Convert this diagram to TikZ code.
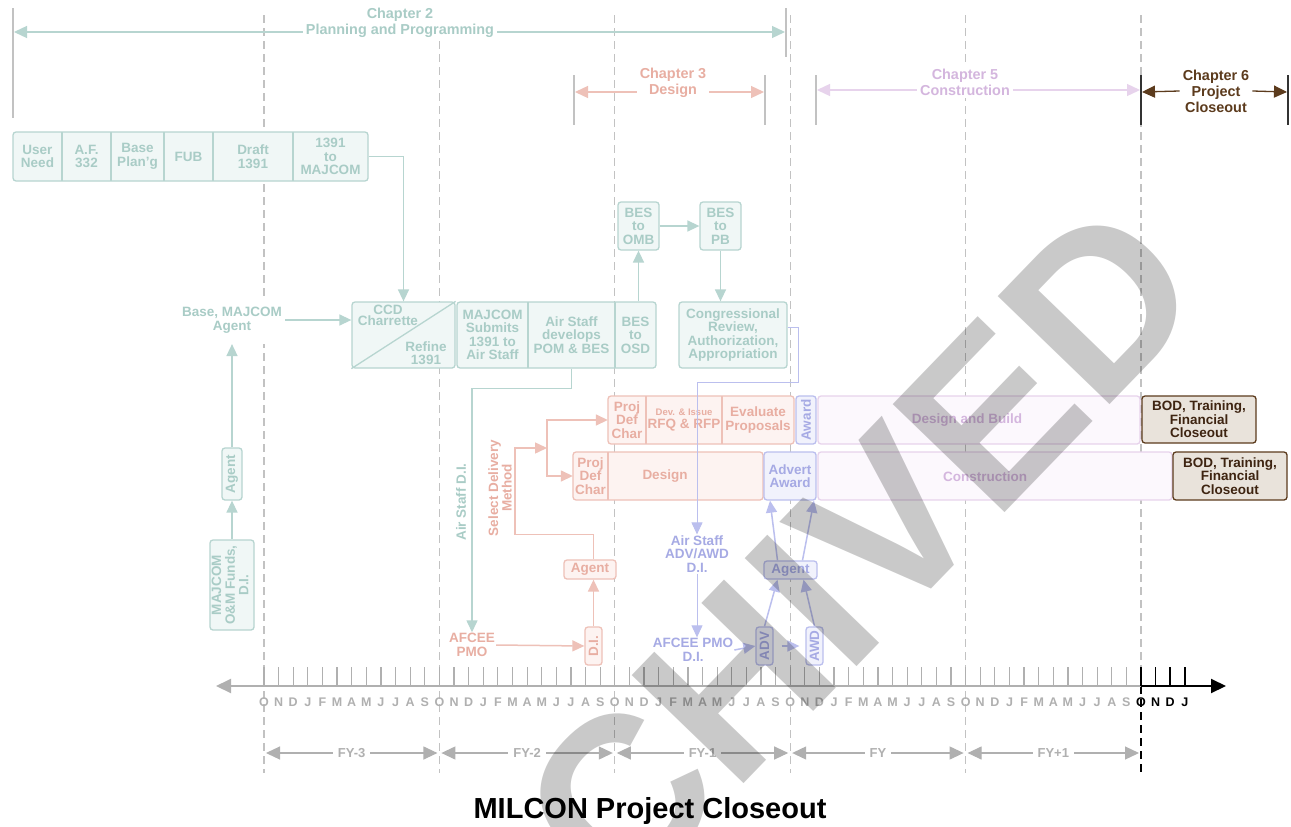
\documentclass[tikz,border=0pt]{standalone}
\usepackage{fontspec}
\setmainfont{Liberation Sans}
\usetikzlibrary{arrows.meta,positioning}

\definecolor{tealT}{HTML}{A9CCC6}
\definecolor{tealD}{HTML}{B7D5D0}
\definecolor{tealF}{HTML}{F0F7F6}
\definecolor{salT}{HTML}{E8AEA2}
\definecolor{salD}{HTML}{EEC1B8}
\definecolor{salF}{HTML}{FDF3F1}
\definecolor{bluT}{HTML}{A6AAE4}
\definecolor{bluD}{HTML}{BBBFEE}
\definecolor{bluF}{HTML}{F1F2FC}
\definecolor{purT}{HTML}{D4B6DE}
\definecolor{purD}{HTML}{E7D3EC}
\definecolor{purF}{HTML}{FCF8FD}
\definecolor{brnT}{HTML}{3E2411}
\definecolor{brnD}{HTML}{5C3B1D}
\definecolor{brnF}{HTML}{E9E3DB}
\definecolor{gryT}{HTML}{B0B0B0}
\definecolor{gryD}{HTML}{C2C2C2}

\newcommand{\boxfont}{\bfseries\fontsize{13.5}{13.5}\selectfont}
\newcommand{\chapfont}{\bfseries\fontsize{14.4}{16}\selectfont}

\tikzset{
  bx/.style={rounded corners=3pt, line width=1.3pt, inner sep=0pt, align=center, font=\boxfont},
  tbx/.style={bx, draw=tealD, fill=tealF, text=tealT},
  sbx/.style={bx, draw=salD, fill=salF, text=salT},
  bbx/.style={bx, draw=bluD, fill=bluF, text=bluT},
  pbx/.style={bx, draw=purD, fill=purF, text=purT},
  obx/.style={bx, draw=brnD, fill=brnF, text=brnT},
  cell/.style={inner sep=0pt, align=center, font=\boxfont},
  lbl/.style={inner sep=1pt, align=center, font=\boxfont},
  flow/.style={line width=1.5pt, -{Triangle[length=12pt,width=11pt]}},
  thinflow/.style={line width=1pt, -{Triangle[length=12pt,width=11pt]}},
  yrline/.style={gryD, line width=1.2pt, dash pattern=on 8pt off 5pt},
  chap/.style={line width=1.3pt, {Triangle[length=13pt,width=12pt]}-{Triangle[length=13pt,width=12pt]}},
  chapbar/.style={gryD, line width=1.3pt},
  chaplbl/.style={font=\chapfont, align=center, fill=white, inner sep=3pt},
  month/.style={font=\bfseries\fontsize{12.5}{12.5}\selectfont, text=gryT, inner sep=0pt},
}

\begin{document}
\begin{tikzpicture}[x=1pt,y=-1pt]
    \fill[white] (0,0) rectangle (1291,827);
    \useasboundingbox (0,0) rectangle (1291,827);

    % fiscal year lines
    \foreach \k in {0,...,4} {
        \draw[yrline] ({264+175.4*\k},15) -- ({264+175.4*\k},773);
    }
    \draw[yrline] (1141,15) -- (1141,686);
    \draw[black, line width=1.5pt, dash pattern=on 8pt off 5pt] (1141,686) -- (1141,773);

    % chapter spans
    \draw[chapbar] (13,8) -- (13,118);
    \draw[chapbar] (786,8) -- (786,57);
    \coordinate (c2l) at (14,32);
    \coordinate (c2r) at (785,32);
    \draw[chap, tealD] (c2l) -- (c2r);
    \node[chaplbl, text=tealT] (ch2) at (400,23) {Chapter 2\\Planning and Programming};

    \draw[chapbar] (574,75) -- (574,125);
    \draw[chapbar] (765,75) -- (765,125);
    \coordinate (c3l) at (575,92);
    \coordinate (c3r) at (764,92);
    \draw[chap, salD] (c3l) -- (c3r);
    \node[chaplbl, text=salT] (ch3) at (673,83) {Chapter 3\\Design};

    \draw[chapbar] (816,75) -- (816,125);
    \coordinate (c5l) at (817,90);
    \coordinate (c5r) at (1140,90);
    \draw[chap, purD] (c5l) -- (c5r);
    \node[chaplbl, text=purT] (ch5) at (965,82) {Chapter 5\\Construction};

    \draw[black!80, line width=1.6pt] (1141,75) -- (1141,125);
    \draw[black!80, line width=1.6pt] (1288,75) -- (1288,125);
    \node[chaplbl, text=brnD] (ch6) at (1216,91) {Chapter 6\\Project\\Closeout};
    \coordinate (c6l) at (1142,92);
    \coordinate (c6r) at (1287,92);
    \draw[brnD, line width=1.3pt, -{Triangle[length=13pt,width=12pt]}] (ch6.west) -- (c6l);
    \draw[brnD, line width=1.3pt, -{Triangle[length=13pt,width=12pt]}] (ch6.east) -- (c6r);

    % planning boxes
    \node[tbx, minimum width=355pt, minimum height=49pt] (needs) at (190.5,156.5) {};
    \foreach \x in {62,111,164,213,293} {
        \draw[tealD, line width=1.3pt] (\x,132) -- (\x,181);
    }
    \node[cell, text=tealT] (usr) at (37.5,156.5) {User\\Need};
    \node[cell, text=tealT] (af) at (86.5,156.5) {A.F.\\332};
    \node[cell, text=tealT] (bpl) at (137.5,156.5) {Base\\Plan'g};
    \node[cell, text=tealT] (fub) at (188.5,156.5) {FUB};
    \node[cell, text=tealT] (drf) at (253,156.5) {Draft\\1391};
    \node[cell, text=tealT] (maj) at (330.5,156.5) {1391\\to\\MAJCOM};

    \node[tbx, minimum width=103pt, minimum height=66pt] (ccd) at (403.5,335) {};
    \draw[tealD, line width=1.3pt] (ccd.south west) -- (ccd.north east);
    \node[cell, text=tealT, font=\bfseries\fontsize{13.5}{11}\selectfont] (ccdt) at (388,315) {CCD\\Charrette};
    \node[cell, text=tealT] (ref) at (426,353) {Refine\\1391};

    \node[lbl, text=tealT, fill=white, inner xsep=3pt, inner ysep=11pt] (bma) at (232,320) {Base, MAJCOM\\Agent};
    \node[tbx, minimum width=20pt, minimum height=52pt] (agt) at (232,474) {\rotatebox{90}{Agent}};
    \node[tbx, minimum width=44pt, minimum height=90pt] (omf) at (232,585)
        {\rotatebox{90}{\begin{tabular}{@{}c@{}}MAJCOM\\O\&M Funds,\\D.I.\end{tabular}}};

    \node[tbx, minimum width=199pt, minimum height=66pt] (mjs) at (556.5,335) {};
    \draw[tealD, line width=1.3pt] (528,302) -- (528,368);
    \draw[tealD, line width=1.3pt] (615,302) -- (615,368);
    \node[cell, text=tealT] (sub) at (492.5,335) {MAJCOM\\Submits\\1391 to\\Air Staff};
    \node[cell, text=tealT] (asd) at (571.5,335) {Air Staff\\develops\\POM \& BES};
    \node[cell, text=tealT] (osd) at (635.5,335) {BES\\to\\OSD};

    \node[tbx, minimum width=41pt, minimum height=48pt] (omb) at (638.5,226) {BES\\to\\OMB};
    \node[tbx, minimum width=41pt, minimum height=48pt] (pb) at (720.5,226) {BES\\to\\PB};
    \node[tbx, minimum width=108pt, minimum height=66pt] (cong) at (733,335)
        {Congressional\\Review,\\Authorization,\\Appropriation};

    \draw[flow, tealD] (maj.east -| needs.east) -| (ccd.north);
    \draw[flow, tealD] (bma.east) -- (bma.east -| ccd.west);
    \draw[flow, tealD] (omf.north) -- (agt.south);
    \draw[flow, tealD] (agt.north) -- (bma.south);
    \draw[flow, tealD] (omb.south |- mjs.north) -- (omb.south);
    \draw[flow, tealD] (omb.east) -- (pb.west);
    \draw[flow, tealD] (pb.south) -- (pb.south |- cong.north);

    % design
    \node[lbl, text=salT] (afc) at (472,645) {AFCEE\\PMO};
    \draw[flow, tealD] (asd.south |- mjs.south) -- ++(0,20) -| (afc.north);
    \node[lbl, text=tealT, rotate=90] (asdl) at (461,502) {Air Staff D.I.};

    \node[sbx, minimum width=17pt, minimum height=38pt] (dis) at (593.5,646) {\rotatebox{90}{D.I.}};
    \node[sbx, minimum width=52pt, minimum height=19pt] (ags) at (590,569.5) {Agent};
    \node[lbl, text=salT, rotate=90] (sdm) at (500,488) {Select Delivery\\Method};

    \node[sbx, minimum width=186pt, minimum height=48pt] (row1) at (701,420) {};
    \draw[salD, line width=1.3pt] (646,396) -- (646,444);
    \draw[salD, line width=1.3pt] (722,396) -- (722,444);
    \node[cell, text=salT, minimum width=38pt, minimum height=48pt] (pdc1) at (627,420) {Proj\\Def\\Char};
    \node[cell, text=salT] (rfq) at (684,420) {{\fontsize{9.5}{11}\selectfont Dev. \& Issue}\\RFQ \& RFP};
    \node[cell, text=salT] (evp) at (758,420) {Evaluate\\Proposals};

    \node[sbx, minimum width=190pt, minimum height=48pt] (row2) at (668,476) {};
    \draw[salD, line width=1.3pt] (608,452) -- (608,500);
    \node[cell, text=salT, minimum width=35pt, minimum height=48pt] (pdc2) at (590.5,476) {Proj\\Def\\Char};
    \node[cell, text=salT] (dsg) at (665,476) {Design};

    \coordinate (fork) at (547,448);
    \draw[flow, salD] (afc.east) -- (dis.west);
    \draw[flow, salD] (dis.north) -- (dis.north |- ags.south);
    \draw[flow, salD] (dis.north |- ags.north) -- ++(0,-25) -| (515,448) -- (fork);
    \draw[flow, salD] (fork) |- (pdc1.west);
    \draw[flow, salD] (fork) |- (pdc2.west);

    % construction
    \node[bbx, minimum width=20pt, minimum height=48pt] (awd1) at (806,420) {\rotatebox{90}{Award}};
    \node[pbx, minimum width=322pt, minimum height=48pt] (dab) at (979,420) {};
    \node[cell, text=purT] (dabt) at (967,420) {Design and Build};
    \node[bbx, minimum width=52pt, minimum height=48pt] (adw) at (790,476) {Advert\\Award};
    \node[pbx, minimum width=354pt, minimum height=48pt] (con) at (995,476) {};
    \node[cell, text=purT] (cont) at (985,477) {Construction};

    \node[obx, minimum width=114pt, minimum height=47pt] (bod1) at (1199,419.5) {BOD, Training,\\Financial\\Closeout};
    \node[obx, minimum width=114pt, minimum height=48pt] (bod2) at (1230,476) {BOD, Training,\\Financial\\Closeout};

    \node[lbl, text=bluT] (aad) at (697,554) {Air Staff\\ADV/AWD\\D.I.};
    \node[lbl, text=bluT] (apd) at (693,650) {AFCEE PMO\\D.I.};
    \node[bbx, minimum width=17pt, minimum height=38pt] (adv) at (764.5,646) {\rotatebox{90}{ADV}};
    \node[bbx, minimum width=17pt, minimum height=38pt] (awd) at (814.5,646) {\rotatebox{90}{AWD}};
    \node[bbx, minimum width=53pt, minimum height=18pt] (agb) at (790.5,570) {Agent};

    \draw[thinflow, bluD] ([yshift=8pt]cong.east) -- ++(11,0) -- ++(0,55) -| (aad.north);
    \draw[thinflow, bluD] (aad.south) -- (aad.south |- apd.north);
    \draw[flow, bluD] (apd.east) -- (adv.west);
    \draw[flow, bluD, shorten <=8pt, shorten >=6pt] (adv.east) -- (awd.west);
    \draw[flow, bluD] (adv.north) -- ([xshift=-13pt]agb.south);
    \draw[flow, bluD] (awd.north) -- ([xshift=13pt]agb.south);
    \draw[flow, bluD] ([xshift=-13pt]agb.north) -- ([xshift=-20pt]adw.south);
    \draw[flow, bluD] ([xshift=12pt]agb.north) -- ([xshift=24pt]adw.south);

    % time axis
    \coordinate (axL) at (216,686);
    \coordinate (axO) at (1141,686);
    \coordinate (axR) at (1226,686);
    \draw[gryT, line width=2pt, -{Triangle[length=15pt,width=14pt]}] (axO) -- (axL);
    \draw[black, line width=2pt, -{Triangle[length=15pt,width=14pt]}] (axO) -- (axR);
    \foreach \yr in {0,...,4} {
        \foreach \m [count=\k from 0] in {O,N,D,J,F,M,A,M,J,J,A,S} {
            \pgfmathsetmacro{\xx}{264+(\yr*12+\k)*14.617}
            \draw[gryT, line width=1.2pt] (\xx,667) -- (\xx,686);
            \node[month] (m\yr-\k) at (\xx,702) {\m};
        }
    }
    \foreach \m [count=\k from 0] in {O,N,D,J} {
        \pgfmathsetmacro{\xx}{1141+\k*14.617}
        \draw[black, line width=1.5pt] (\xx,667) -- (\xx,686);
        \node[month, text=black] (mb-\k) at (\xx,702) {\m};
    }

    \foreach \lab [count=\k from 0] in {FY-3,FY-2,FY-1,FY,FY+1} {
        \coordinate (fa\k) at ({264+175.4*\k+2},753);
        \coordinate (fb\k) at ({264+175.4*(\k+1)-2},753);
        \draw[gryT, line width=1.2pt, {Triangle[length=14pt,width=13pt]}-{Triangle[length=14pt,width=13pt]}] (fa\k) -- (fb\k);
        \node[font=\bfseries\fontsize{13}{13}\selectfont, text=gryT, fill=white, inner xsep=5pt] (fy\k) at ({264+175.4*\k+87.7},753) {\lab};
    }

    \node[font=\bfseries\fontsize{29}{29}\selectfont] (title) at (650,811) {MILCON Project Closeout};

    % archive stamp
    \begin{scope}
        \clip (0,0) rectangle (1291,827);
        \node[rotate=46, font=\bfseries\fontsize{226}{226}\selectfont, text=black, text opacity=0.21, inner sep=0pt] (stamp) at (747,668) {ARCHIVED};
    \end{scope}
\end{tikzpicture}
\end{document}
